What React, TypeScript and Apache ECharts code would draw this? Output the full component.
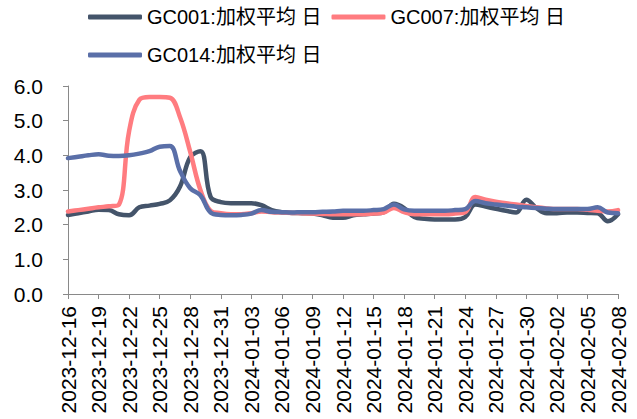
import React, { useEffect, useRef } from "react";
import * as echarts from "echarts";

const dates = [
  "2023-12-16", "2023-12-17", "2023-12-18", "2023-12-19", "2023-12-20", "2023-12-21", "2023-12-22",
  "2023-12-23", "2023-12-24", "2023-12-25", "2023-12-26", "2023-12-27", "2023-12-28", "2023-12-29",
  "2023-12-30", "2023-12-31", "2024-01-01", "2024-01-02", "2024-01-03", "2024-01-04", "2024-01-05",
  "2024-01-06", "2024-01-07", "2024-01-08", "2024-01-09", "2024-01-10", "2024-01-11", "2024-01-12",
  "2024-01-13", "2024-01-14", "2024-01-15", "2024-01-16", "2024-01-17", "2024-01-18", "2024-01-19",
  "2024-01-20", "2024-01-21", "2024-01-22", "2024-01-23", "2024-01-24", "2024-01-25", "2024-01-26",
  "2024-01-27", "2024-01-28", "2024-01-29", "2024-01-30", "2024-01-31", "2024-02-01", "2024-02-02",
  "2024-02-03", "2024-02-04", "2024-02-05", "2024-02-06", "2024-02-07", "2024-02-08",
];

const seriesNames = ["GC001:加权平均 日", "GC007:加权平均 日", "GC014:加权平均 日"];

const gc001 = [
  2.28, 2.33, 2.38, 2.43, 2.42, 2.30, 2.27, 2.50, 2.55, 2.60, 2.70, 3.10, 3.95, 4.12,
  2.80, 2.65, 2.62, 2.62, 2.62, 2.56, 2.42, 2.36, 2.34, 2.33, 2.32, 2.27, 2.20, 2.20,
  2.27, 2.30, 2.32, 2.36, 2.60, 2.48, 2.22, 2.17, 2.15, 2.15, 2.15, 2.22, 2.58, 2.52,
  2.46, 2.40, 2.35, 2.72, 2.48, 2.33, 2.33, 2.35, 2.35, 2.34, 2.33, 2.10, 2.30,
];

const gc007 = [
  2.38, 2.42, 2.46, 2.50, 2.53, 2.58, 4.70, 5.60, 5.68, 5.68, 5.66, 5.10, 4.10, 3.00,
  2.40, 2.33, 2.30, 2.30, 2.33, 2.38, 2.36, 2.35, 2.34, 2.33, 2.32, 2.31, 2.30, 2.30,
  2.30, 2.30, 2.32, 2.35, 2.48, 2.36, 2.30, 2.30, 2.30, 2.30, 2.32, 2.36, 2.80, 2.72,
  2.66, 2.62, 2.58, 2.54, 2.50, 2.47, 2.45, 2.45, 2.45, 2.43, 2.40, 2.38, 2.42,
];

const gc014 = [
  3.92, 3.96, 4.00, 4.03, 3.99, 3.98, 4.00, 4.05, 4.12, 4.25, 4.27, 3.55, 3.05, 2.85,
  2.35, 2.28, 2.27, 2.28, 2.32, 2.42, 2.37, 2.36, 2.35, 2.36, 2.36, 2.37, 2.38, 2.40,
  2.40, 2.40, 2.42, 2.45, 2.58, 2.44, 2.40, 2.40, 2.40, 2.40, 2.42, 2.45, 2.68, 2.62,
  2.58, 2.55, 2.52, 2.50, 2.48, 2.46, 2.45, 2.45, 2.45, 2.45, 2.50, 2.35, 2.33,
];

const colors = ["#44546A", "#FF7C80", "#5A6FA8"];
const FONT = "'Liberation Sans', Arial, 'Noto Sans CJK SC', sans-serif";

export default function App() {
  const ref = useRef<HTMLDivElement>(null);
  useEffect(() => {
    if (!ref.current) return;
    const chart = echarts.init(ref.current, null, { renderer: "svg" });
    const legendBase = {
      left: 88,
      icon: "roundRect",
      itemWidth: 54,
      itemHeight: 5,
      itemGap: 10,
      padding: 0,
      textStyle: { fontSize: 20, color: "#000", fontFamily: FONT },
    };
    const data = [gc001, gc007, gc014];
    chart.setOption({
      animation: false,
      color: colors,
      textStyle: { fontFamily: FONT },
      grid: { left: 68, right: 19, top: 86, bottom: 125, containLabel: false },
      legend: [
        { ...legendBase, top: 7, data: [seriesNames[0], seriesNames[1]] },
        { ...legendBase, top: 45, data: [seriesNames[2]] },
      ],
      xAxis: {
        type: "category",
        boundaryGap: false,
        data: dates,
        axisLine: { lineStyle: { color: "#898989", width: 1 } },
        axisTick: { show: true, interval: 2, length: 5, lineStyle: { color: "#898989" } },
        axisLabel: {
          interval: 2,
          rotate: 90,
          margin: 12,
          fontSize: 21,
          color: "#000",
          fontFamily: FONT,
        },
        splitLine: { show: false },
      },
      yAxis: {
        type: "value",
        min: 0,
        max: 6,
        interval: 1,
        axisLine: { show: true, lineStyle: { color: "#898989", width: 1 } },
        axisTick: { show: true, length: 5, lineStyle: { color: "#898989" } },
        axisLabel: {
          margin: 25,
          fontSize: 21,
          color: "#000",
          fontFamily: FONT,
          formatter: (v: number) => v.toFixed(1),
        },
        splitLine: { show: false },
      },
      series: seriesNames.map((name, i) => ({
        name,
        type: "line",
        data: data[i],
        smooth: 0.4,
        symbol: "none",
        lineStyle: { width: 4.5, color: colors[i], cap: "round", join: "round" },
        itemStyle: { color: colors[i] },
      })),
    });
    return () => chart.dispose();
  }, []);
  return (
    <div
      ref={ref}
      style={{ position: "fixed", left: 0, top: 0, width: 637, height: 419, background: "#fff" }}
    />
  );
}
